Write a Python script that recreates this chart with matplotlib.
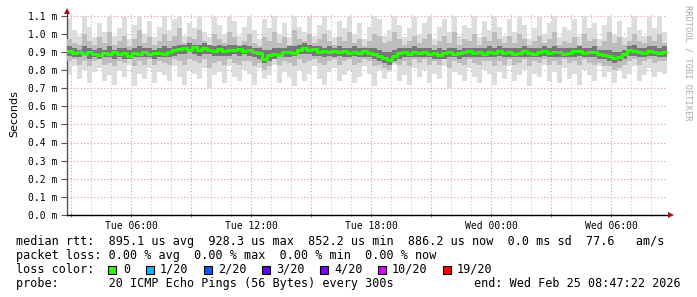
import matplotlib
matplotlib.use("Agg")
import matplotlib.pyplot as plt
import matplotlib.dates as mdates
from matplotlib.ticker import FixedLocator, FuncFormatter
from matplotlib.patches import Rectangle
import pandas as pd
import numpy as np

# ---------------- data (ms) ----------------
start = "2026-02-24 02:47:22"
end = "2026-02-25 08:47:22"
n_points = 120
step_minutes = 15

median = [0.905,0.895,0.900,0.888,0.897,0.890,0.885,0.895,0.890,0.897,0.888,0.893,0.880,0.895,0.890,0.900,0.888,0.895,0.892,0.887,
          0.900,0.908,0.915,0.922,0.912,0.925,0.910,0.920,0.913,0.905,0.915,0.903,0.912,0.908,0.916,0.906,0.912,0.900,0.895,0.862,
          0.882,0.890,0.885,0.897,0.902,0.896,0.912,0.920,0.910,0.915,0.900,0.906,0.898,0.905,0.897,0.903,0.893,0.902,0.896,0.904,
          0.895,0.888,0.878,0.866,0.855,0.875,0.892,0.898,0.890,0.902,0.893,0.899,0.888,0.895,0.884,0.892,0.897,0.889,0.896,0.900,
          0.903,0.893,0.899,0.890,0.902,0.895,0.905,0.892,0.898,0.889,0.896,0.903,0.894,0.890,0.900,0.904,0.893,0.901,0.897,0.890,
          0.896,0.903,0.907,0.895,0.899,0.902,0.888,0.884,0.877,0.868,0.872,0.888,0.908,0.903,0.898,0.895,0.905,0.900,0.896,0.901]

outer_hi = [1.08,1.02,0.99,1.10,1.04,0.98,1.06,1.01,1.10,0.99,
            1.03,1.09,0.97,1.05,1.10,1.00,1.07,0.98,1.04,1.10,
            1.02,1.08,1.10,0.99,1.06,1.03,1.10,1.01,0.98,1.09,
            1.05,1.00,1.10,1.07,0.99,1.04,1.10,1.02,0.97,1.08,
            1.03,1.10,1.00,1.06,0.98,1.10,1.04,1.01,1.09,0.99,
            1.05,1.10,1.02,0.98,1.07,1.03,1.10,1.00,1.06,0.97,
            1.04,1.10,1.08,0.99,1.02,1.10,1.05,0.98,1.03,1.09,
            1.00,1.06,1.10,0.97,1.04,1.08,1.01,1.10,0.99,1.05,
            1.03,1.10,0.98,1.07,1.02,1.10,1.04,0.99,1.08,1.01,
            1.10,1.05,0.97,1.03,1.09,1.00,1.06,1.10,0.98,1.04,
            1.02,1.08,0.99,1.10,1.03,1.06,0.97,1.05,1.10,1.00,
            1.07,0.98,1.04,1.10,1.02,0.99,1.09,1.03,1.10,1.01]

outer_lo = [0.78,0.82,0.75,0.80,0.73,0.79,0.81,0.74,0.77,0.72,
            0.80,0.76,0.83,0.71,0.78,0.75,0.81,0.73,0.79,0.77,
            0.74,0.82,0.76,0.72,0.80,0.78,0.75,0.81,0.70,0.77,
            0.79,0.73,0.82,0.76,0.74,0.80,0.78,0.72,0.81,0.75,
            0.77,0.83,0.73,0.79,0.76,0.71,0.80,0.74,0.78,0.82,
            0.75,0.72,0.79,0.81,0.74,0.77,0.80,0.73,0.76,0.82,
            0.78,0.71,0.80,0.75,0.79,0.83,0.74,0.77,0.72,0.81,
            0.76,0.80,0.73,0.78,0.75,0.82,0.70,0.79,0.77,0.74,
            0.81,0.76,0.73,0.80,0.78,0.72,0.79,0.75,0.82,0.74,
            0.77,0.80,0.71,0.78,0.76,0.83,0.74,0.79,0.73,0.81,
            0.75,0.78,0.72,0.80,0.77,0.74,0.82,0.76,0.79,0.73,
            0.80,0.75,0.78,0.82,0.74,0.77,0.81,0.76,0.79,0.78]

mid_hi = [0.97,0.95,0.94,1.00,0.96,0.94,0.98,0.95,1.01,0.94,
          0.96,0.99,0.93,0.97,1.02,0.95,0.98,0.94,0.96,1.00,
          0.96,0.99,1.03,0.95,0.98,0.97,1.02,0.96,0.94,1.00,
          0.97,0.95,1.01,0.98,0.94,0.96,1.00,0.95,0.93,0.98,
          0.96,1.01,0.95,0.98,0.94,1.02,0.97,0.96,1.00,0.95,
          0.97,1.00,0.96,0.94,0.98,0.96,1.01,0.95,0.97,0.93,
          0.96,1.00,0.99,0.95,0.96,1.01,0.97,0.94,0.96,0.99,
          0.95,0.97,1.00,0.94,0.96,0.99,0.95,1.01,0.94,0.97,
          0.96,1.00,0.94,0.98,0.96,1.01,0.97,0.95,0.99,0.95,
          1.00,0.97,0.94,0.96,0.99,0.95,0.97,1.01,0.94,0.96,
          0.95,0.98,0.94,1.00,0.96,0.97,0.93,0.96,1.01,0.95,
          0.98,0.94,0.96,1.00,0.96,0.95,0.99,0.96,1.00,0.95]

mid_lo = [0.85,0.86,0.83,0.85,0.82,0.85,0.86,0.83,0.84,0.82,
          0.85,0.84,0.86,0.82,0.85,0.83,0.86,0.83,0.85,0.84,
          0.83,0.86,0.85,0.83,0.86,0.85,0.84,0.86,0.81,0.84,
          0.85,0.83,0.86,0.84,0.83,0.85,0.85,0.82,0.84,0.80,
          0.82,0.86,0.83,0.85,0.84,0.82,0.86,0.84,0.85,0.86,
          0.84,0.83,0.85,0.86,0.83,0.85,0.86,0.83,0.84,0.86,
          0.85,0.82,0.83,0.81,0.80,0.84,0.83,0.85,0.82,0.86,
          0.84,0.86,0.83,0.85,0.83,0.86,0.81,0.85,0.84,0.83,
          0.86,0.84,0.83,0.85,0.85,0.82,0.85,0.83,0.86,0.83,
          0.84,0.86,0.82,0.85,0.84,0.86,0.83,0.85,0.83,0.86,
          0.84,0.85,0.83,0.86,0.84,0.83,0.84,0.82,0.82,0.80,
          0.81,0.83,0.85,0.86,0.83,0.85,0.86,0.84,0.85,0.85]

inner_hi = [0.93,0.92,0.91,0.93,0.92,0.91,0.92,0.91,0.93,0.91,
            0.92,0.92,0.91,0.92,0.93,0.92,0.92,0.91,0.92,0.93,
            0.92,0.93,0.94,0.94,0.95,0.94,0.94,0.95,0.94,0.93,
            0.94,0.93,0.94,0.94,0.93,0.94,0.93,0.92,0.92,0.91,
            0.91,0.92,0.92,0.92,0.93,0.93,0.94,0.95,0.94,0.93,
            0.93,0.92,0.93,0.92,0.93,0.92,0.92,0.93,0.92,0.92,
            0.92,0.92,0.91,0.90,0.90,0.91,0.92,0.92,0.92,0.93,
            0.92,0.92,0.92,0.91,0.92,0.91,0.92,0.92,0.91,0.92,
            0.92,0.92,0.92,0.92,0.93,0.92,0.93,0.92,0.92,0.92,
            0.92,0.93,0.92,0.92,0.92,0.93,0.92,0.93,0.92,0.92,
            0.92,0.92,0.93,0.92,0.92,0.93,0.91,0.91,0.91,0.90,
            0.90,0.91,0.93,0.94,0.92,0.92,0.93,0.93,0.92,0.93]

inner_lo = [0.88,0.87,0.87,0.88,0.86,0.87,0.86,0.87,0.87,0.86,
            0.87,0.86,0.86,0.87,0.87,0.87,0.87,0.86,0.87,0.87,
            0.87,0.88,0.89,0.89,0.90,0.89,0.88,0.89,0.89,0.88,
            0.88,0.88,0.88,0.89,0.88,0.89,0.88,0.87,0.86,0.84,
            0.85,0.86,0.87,0.87,0.87,0.88,0.89,0.89,0.89,0.88,
            0.88,0.87,0.88,0.87,0.88,0.87,0.87,0.88,0.87,0.87,
            0.87,0.86,0.85,0.84,0.83,0.85,0.86,0.87,0.87,0.87,
            0.87,0.87,0.87,0.86,0.86,0.86,0.87,0.87,0.86,0.87,
            0.87,0.87,0.87,0.87,0.87,0.87,0.88,0.87,0.87,0.87,
            0.87,0.87,0.87,0.87,0.87,0.88,0.87,0.87,0.87,0.87,
            0.87,0.87,0.88,0.87,0.87,0.87,0.86,0.86,0.85,0.84,
            0.85,0.86,0.88,0.88,0.87,0.87,0.88,0.88,0.87,0.87]

y_ticks = [0.0, 0.1, 0.2, 0.3, 0.4, 0.5, 0.6, 0.7, 0.8, 0.9, 1.0, 1.1]

stats_lines = [
    "median rtt:  895.1 us avg  928.3 us max  852.2 us min  886.2 us now  0.0 ms sd  77.6   am/s",
    "packet loss: 0.00 % avg  0.00 % max  0.00 % min  0.00 % now",
]
loss_labels = ["0", "1/20", "2/20", "3/20", "4/20", "10/20", "19/20"]
loss_colors = ["#26ff00", "#00b8ff", "#0059ff", "#5e00ff", "#7e00ff", "#dd00ff", "#ff0000"]
probe_text = "probe:       20 ICMP Echo Pings (56 Bytes) every 300s"
end_text = "end: Wed Feb 25 08:47:22 2026"

# ---------------- figure ----------------
W, H = 697, 297
fig = plt.figure(figsize=(W / 100, H / 100), dpi=100)
fig.patch.set_facecolor("white")

def px(x, y):
    return x / W, 1 - y / H

ax_l, ax_r, ax_t, ax_b = 67, 667, 12, 215
ax = fig.add_axes([ax_l / W, 1 - ax_b / H, (ax_r - ax_l) / W, (ax_b - ax_t) / H])
ax.set_facecolor("white")

times = pd.date_range(start=start, periods=n_points + 1, freq=f"{step_minutes}min")
t_num = mdates.date2num(times.to_pydatetime())

def ext(a):
    a = list(a)
    return np.array(a + [a[-1]])

ax.fill_between(t_num, ext(outer_lo), ext(outer_hi), step="post", color="#dddddd", lw=0, zorder=2)
ax.fill_between(t_num, ext(mid_lo), ext(mid_hi), step="post", color="#bdbdbd", lw=0, zorder=3)
ax.fill_between(t_num, ext(inner_lo), ext(inner_hi), step="post", color="#777777", lw=0, zorder=4)
ax.step(t_num, ext(median), where="post", color="#26ff00", lw=2.2, zorder=5)

t0 = mdates.date2num(pd.Timestamp(start).to_pydatetime())
t1 = mdates.date2num(pd.Timestamp(end).to_pydatetime())
ax.set_xlim(t0, t1)
ax.set_ylim(0, 1.12)

# grids
ax.xaxis.set_major_locator(mdates.HourLocator(byhour=range(0, 24, 3)))
ax.xaxis.set_minor_locator(mdates.HourLocator())
def xfmt(v, pos):
    d = mdates.num2date(v)
    if d.hour % 6 == 0 and d.minute == 0:
        return d.strftime("%a %H:%M")
    return ""
ax.xaxis.set_major_formatter(FuncFormatter(xfmt))
ax.yaxis.set_major_locator(FixedLocator(y_ticks))
ax.yaxis.set_major_formatter(FuncFormatter(lambda v, p: f"{v:.1f} m"))

ax.grid(which="minor", axis="x", color="#c8c8c8", linestyle=(0, (1, 2)), lw=0.8, zorder=1)
ax.grid(which="major", axis="x", color="#e49a9a", linestyle=(0, (1, 2)), lw=0.8, zorder=1)
ax.grid(which="major", axis="y", color="#e49a9a", linestyle=(0, (1, 2)), lw=0.8, zorder=1)
ax.set_axisbelow(True)

for s in ["top", "right"]:
    ax.spines[s].set_visible(False)
ax.spines["left"].set_color("#555555")
ax.spines["bottom"].set_color("#000000")
ax.spines["left"].set_linewidth(1)
ax.spines["bottom"].set_linewidth(1)

mono = "DejaVu Sans Mono"
ax.tick_params(axis="y", which="major", length=4, width=0.8, color="#555555", pad=3,
               labelsize=7, labelcolor="#000000")
ax.tick_params(axis="x", which="major", length=3, width=0.8, color="#cc6666", pad=3,
               labelsize=7, labelcolor="#000000", direction="inout")
ax.tick_params(axis="x", which="minor", length=2, width=0.6, color="#888888", direction="inout")
for lab in ax.get_xticklabels() + ax.get_yticklabels():
    lab.set_fontfamily(mono)

ax.set_ylabel("Seconds", fontsize=8, family="DejaVu Sans", labelpad=6)

# arrows
fig.patches.append(matplotlib.patches.Polygon(
    [px(64, 14), px(70, 14), px(67, 8)], closed=True, transform=fig.transFigure,
    facecolor="#a01010", edgecolor="none"))
fig.patches.append(matplotlib.patches.Polygon(
    [px(668, 212), px(668, 218), px(674, 215)], closed=True, transform=fig.transFigure,
    facecolor="#a01010", edgecolor="none"))

# watermark
fig.text(*px(688, 5), "RRDTOOL / TOBI OETIKER", rotation=-90, fontsize=6.2, family=mono,
         color="#aaaaaa", ha="center", va="top")

# legend text
fs = 8.5
x0 = 16
fig.text(*px(x0, 241.5), stats_lines[0], fontsize=fs, family=mono, va="center", ha="left")
fig.text(*px(x0, 255.5), stats_lines[1], fontsize=fs, family=mono, va="center", ha="left")
fig.text(*px(x0, 269.5), "loss color:", fontsize=fs, family=mono, va="center", ha="left")
sq_x = [108, 146, 204, 262, 320, 378, 443]
lab_x = [123, 160, 218, 276, 334, 392, 457]
for sx, lx, lab, col in zip(sq_x, lab_x, loss_labels, loss_colors):
    fig.patches.append(Rectangle(px(sx, 273.5), 8 / W, 8 / H, transform=fig.transFigure,
                                 facecolor=col, edgecolor="black", lw=0.8))
    fig.text(*px(lx, 269.5), lab, fontsize=fs, family=mono, va="center", ha="left")
fig.text(*px(x0, 283.5), probe_text, fontsize=fs, family=mono, va="center", ha="left")
fig.text(*px(681, 283.5), end_text, fontsize=fs, family=mono, va="center", ha="right")

fig.savefig("out.png", dpi=100, facecolor="white")
